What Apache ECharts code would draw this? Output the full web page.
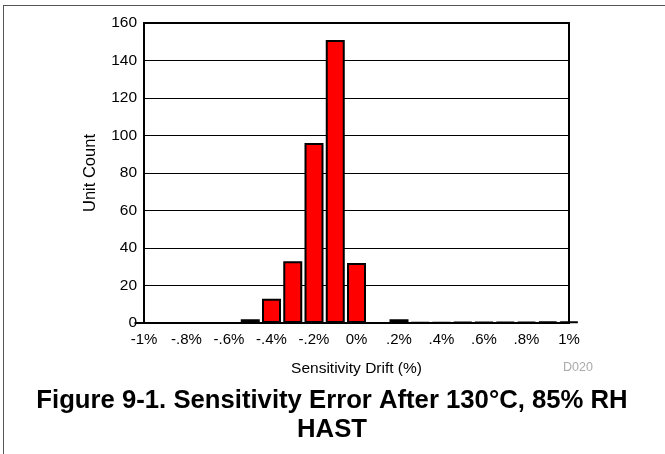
<!DOCTYPE html>
<html>
<head>
<meta charset="utf-8">
<script src="https://cdn.jsdelivr.net/npm/echarts@6/dist/echarts.min.js"></script>
<style>
html,body{margin:0;padding:0;background:#fff;}
#c{width:665px;height:454px;}
</style>
</head>
<body>
<div id="c"></div>
<script>
// Bin centres (% sensitivity drift)
var binCenters = [-1.0,-0.9,-0.8,-0.7,-0.6,-0.5,-0.4,-0.3,-0.2,-0.1,0.0,0.1,0.2,0.3,0.4,0.5,0.6,0.7,0.8,0.9,1.0];
// Unit counts per bin
var unitCounts = [0,0,0,0,0,2,13,33,96,151,32,0,2,0.4,0.4,0.5,0.5,0.6,0.6,0.7,0.7];
// Tick labels of x axis (from -1 to 1, step 0.2)
var xTickValues = [-1,-0.8,-0.6,-0.4,-0.2,0,0.2,0.4,0.6,0.8,1];
var xTickLabels = ['-1%','-.8%','-.6%','-.4%','-.2%','0%','.2%','.4%','.6%','.8%','1%'];
var yTicks = [0,20,40,60,80,100,120,140,160];

var seriesData = binCenters.map(function(x,i){return [x, unitCounts[i]];});

var chart = echarts.init(document.getElementById('c'));
var font = 'Liberation Sans, Arial, Helvetica, sans-serif';
chart.setOption({
  animation:false,
  backgroundColor:'#fff',
  grid:{left:144,right:96,top:23,bottom:131,show:true,borderColor:'#000',borderWidth:2,containLabel:false},
  xAxis:{
    type:'value',min:-1,max:1,interval:0.2,
    axisLine:{show:true,onZero:false,lineStyle:{color:'#000',width:2}},
    axisTick:{show:false},
    splitLine:{show:false},
    axisLabel:{
      color:'#000',fontFamily:font,fontSize:15,margin:9,
      formatter:function(v){
        for(var i=0;i<xTickValues.length;i++){ if(Math.abs(xTickValues[i]-v)<1e-6) return xTickLabels[i]; }
        return '';
      }
    },
    name:'Sensitivity Drift (%)',nameLocation:'middle',nameGap:38,
    nameTextStyle:{color:'#000',fontFamily:font,fontSize:15.5}
  },
  yAxis:{
    type:'value',min:0,max:160,interval:20,
    axisLine:{show:true,onZero:false,lineStyle:{color:'#000',width:2}},
    axisTick:{show:false},
    splitLine:{show:true,lineStyle:{color:'#000',width:1}},
    axisLabel:{color:'#000',fontFamily:font,fontSize:15.5,margin:7,
      formatter:function(v){return yTicks.indexOf(v)>=0?String(v):'';}},
    name:'Unit Count',nameLocation:'middle',nameGap:45,nameRotate:90,
    nameTextStyle:{color:'#000',fontFamily:font,fontSize:16.5}
  },
  series:[{
    type:'bar',
    data:seriesData,
    barWidth:19,
    itemStyle:{color:'#ff0000',borderColor:'#000',borderWidth:2}
  }],
  graphic:[
    {type:'line',shape:{x1:3,y1:5.5,x2:665,y2:5.5},style:{stroke:'#555',lineWidth:1}},
    {type:'line',shape:{x1:3.5,y1:5,x2:3.5,y2:454},style:{stroke:'#555',lineWidth:1}},
    {type:'text',x:563,y:361,style:{text:'D020',fill:'#aaa',font:'12.5px '+font}},
    {type:'text',x:332,y:386,style:{text:'Figure 9-1. Sensitivity Error After 130°C, 85% RH\nHAST',fill:'#000',align:'center',font:'bold 25.7px '+font,lineHeight:29}}
  ]
});
</script>
</body>
</html>
